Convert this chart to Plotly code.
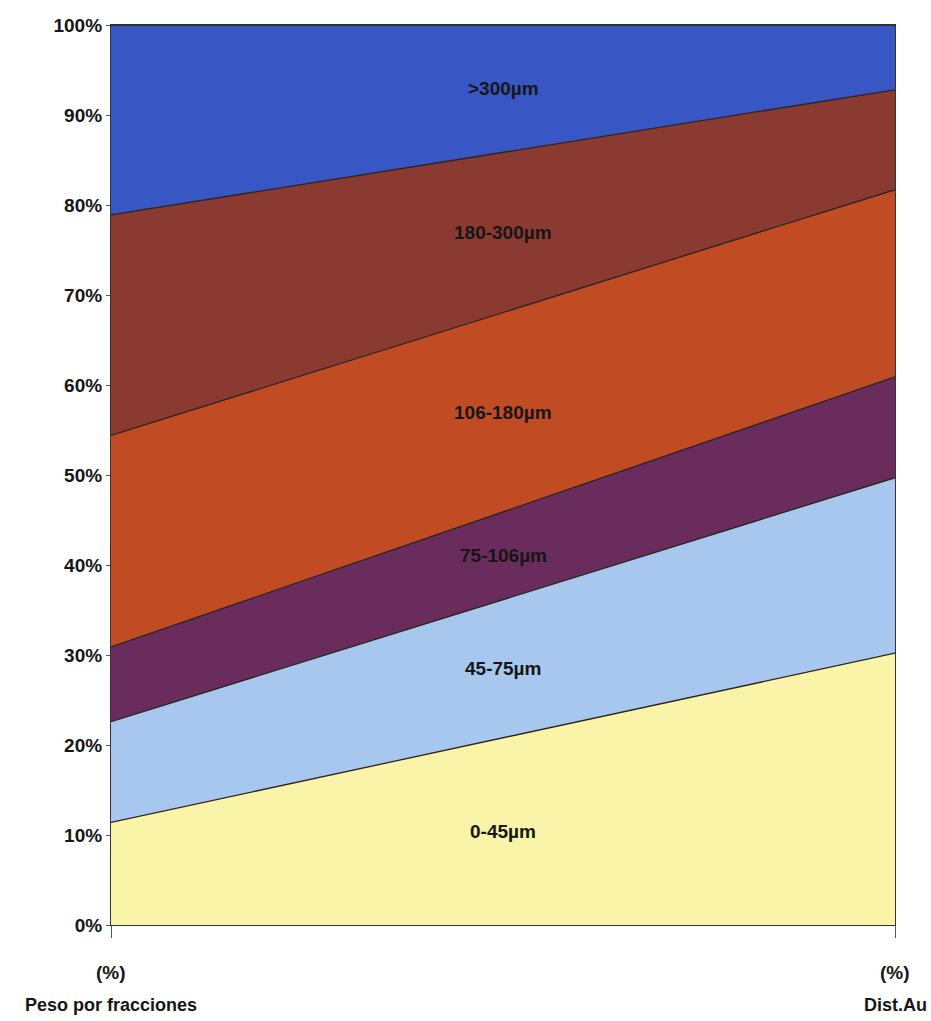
import plotly.graph_objects as go

# Two columns being compared
categories = ["Peso por fracciones", "Dist.Au"]
category_prefix = "(%)"

# Size fractions, bottom to top, with % share in each column
fractions = ["0-45µm", "45-75µm", "75-106µm", "106-180µm", "180-300µm", ">300µm"]
peso_pct = [11.4, 11.2, 8.3, 23.5, 24.5, 21.1]
dist_au_pct = [30.2, 19.5, 11.2, 20.8, 11.1, 7.2]

y_ticks = list(range(0, 101, 10))
y_tick_labels = [f"{v}%" for v in y_ticks]

colors = ["#f9f4a8", "#a8c7ee", "#6a2c5c", "#c14c24", "#8a3a30", "#3856c4"]

FONT = "Liberation Sans, Arial, sans-serif"
INK = "#161616"

fig = go.Figure()
for name, a, b, c in zip(fractions, peso_pct, dist_au_pct, colors):
    fig.add_trace(go.Scatter(
        x=[0, 1], y=[a, b], name=name, mode="lines",
        stackgroup="one", fillcolor=c,
        line=dict(color="#2b2420", width=1.3),
        hoverinfo="name+y",
    ))

# Band labels sit at the middle of each band, halfway across
cum_left, cum_right = 0.0, 0.0
for name, a, b in zip(fractions, peso_pct, dist_au_pct):
    lo = (cum_left + cum_right) / 2
    cum_left += a
    cum_right += b
    hi = (cum_left + cum_right) / 2
    fig.add_annotation(
        x=0.5, y=(lo + hi) / 2, text=name, showarrow=False,
        font=dict(family=FONT, size=19, color=INK, weight="bold"),
    )

# Category labels under each column edge
for i, cat in enumerate(categories):
    fig.add_annotation(
        x=i, y=0, xref="x", yref="paper", yshift=-47, text=category_prefix,
        showarrow=False, yanchor="middle",
        font=dict(family=FONT, size=19, color=INK, weight="bold"),
    )
    fig.add_annotation(
        x=i, y=0, xref="x", yref="paper", yshift=-80, text=cat,
        showarrow=False, yanchor="middle",
        font=dict(family=FONT, size=18, color=INK, weight="bold"),
    )

fig.update_layout(
    width=931, height=1021,
    margin=dict(l=111, r=36, t=25, b=96),
    paper_bgcolor="white", plot_bgcolor="white",
    showlegend=False,
    font=dict(family=FONT, size=19, color=INK),
)
fig.update_xaxes(
    range=[0, 1], tickvals=[0, 1], showticklabels=False,
    ticks="outside", ticklen=12, tickcolor="#555",
    showline=True, linecolor="#333", linewidth=1.2, mirror=True,
    showgrid=False, zeroline=False, fixedrange=True,
)
fig.update_yaxes(
    range=[0, 100], tickvals=y_ticks, ticktext=y_tick_labels,
    ticks="outside", ticklen=4, tickcolor="#555",
    showline=True, linecolor="#333", linewidth=1.2, mirror=True,
    showgrid=False, zeroline=False, fixedrange=True,
    tickfont=dict(family=FONT, size=19, color=INK, weight="bold"),
)

fig.write_html("out.html")
